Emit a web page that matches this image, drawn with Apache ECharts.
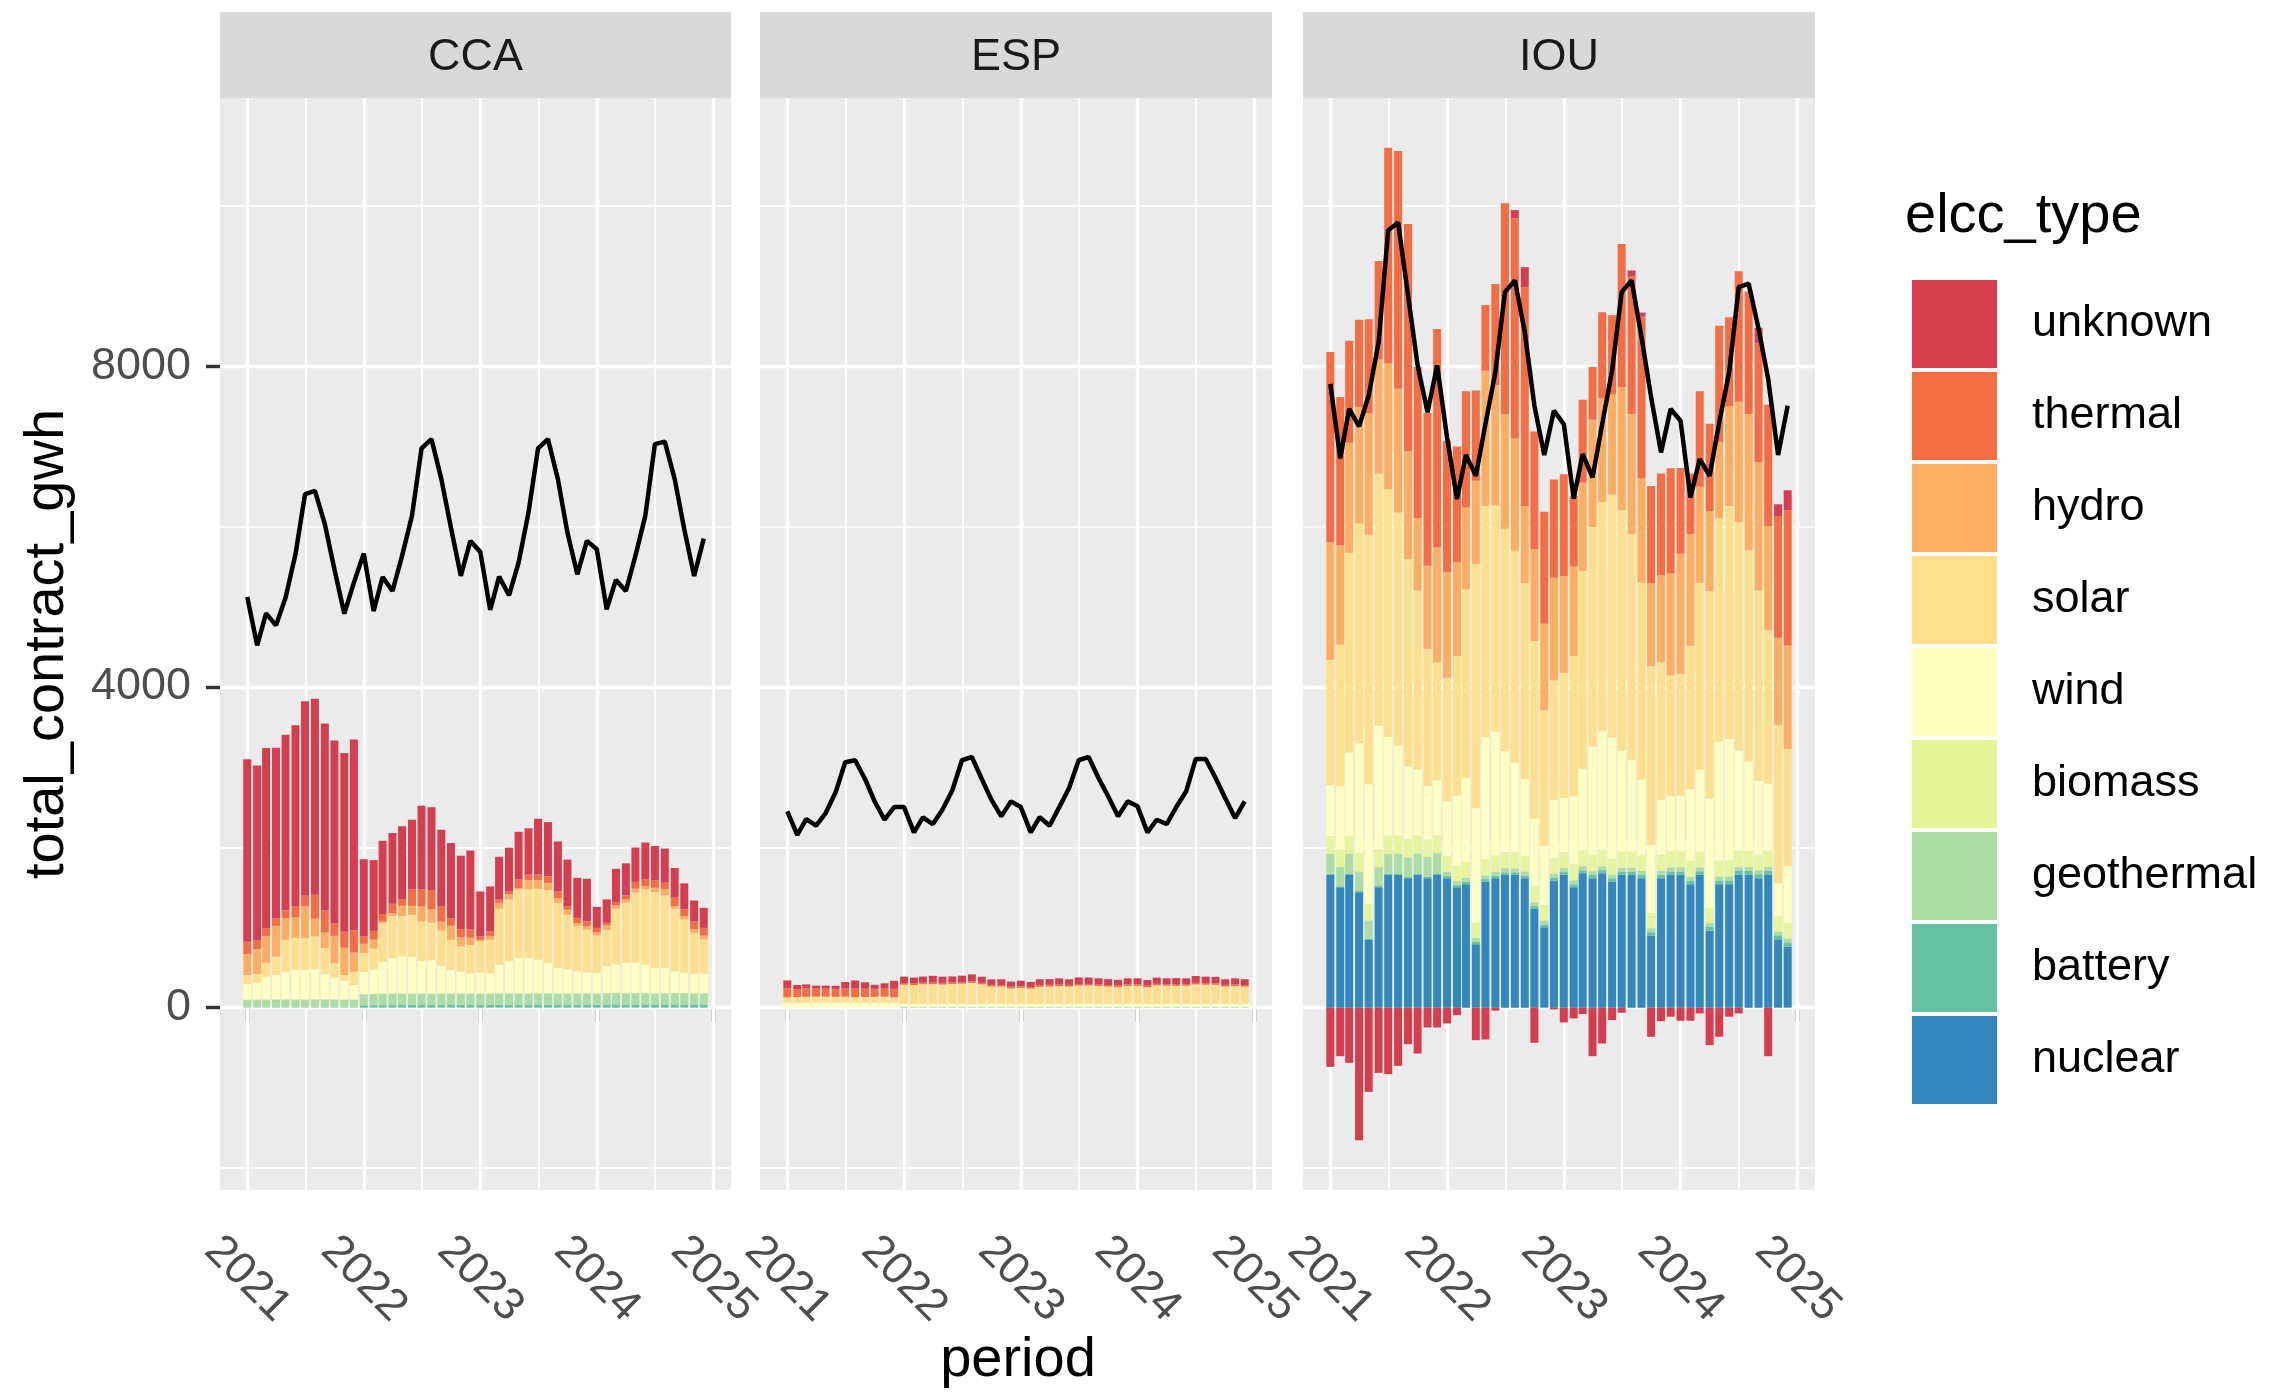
<!DOCTYPE html>
<html>
<head>
<meta charset="utf-8">
<title>total_contract_gwh by elcc_type</title>
<script src="https://cdn.jsdelivr.net/npm/echarts@6/dist/echarts.min.js"></script>
<style>
    html, body { margin: 0; padding: 0; background: #ffffff; }
    #chart { width: 2270px; height: 1393px; }
</style>
</head>
<body>
<div id="chart"></div>
<script>
    // one bar per month, Jan 2021 .. Dec 2024
    const periods = [
        '2021-01-01','2021-02-01','2021-03-01','2021-04-01','2021-05-01','2021-06-01','2021-07-01','2021-08-01','2021-09-01','2021-10-01','2021-11-01','2021-12-01',
        '2022-01-01','2022-02-01','2022-03-01','2022-04-01','2022-05-01','2022-06-01','2022-07-01','2022-08-01','2022-09-01','2022-10-01','2022-11-01','2022-12-01',
        '2023-01-01','2023-02-01','2023-03-01','2023-04-01','2023-05-01','2023-06-01','2023-07-01','2023-08-01','2023-09-01','2023-10-01','2023-11-01','2023-12-01',
        '2024-01-01','2024-02-01','2024-03-01','2024-04-01','2024-05-01','2024-06-01','2024-07-01','2024-08-01','2024-09-01','2024-10-01','2024-11-01','2024-12-01'
    ];
    const yearBreaks = ['2021-01-01', '2022-01-01', '2023-01-01', '2024-01-01', '2025-01-01'];
    const yearLabels = ['2021', '2022', '2023', '2024', '2025'];
    const yTicks = [0, 4000, 8000];
    const yTickLabels = ['0', '4000', '8000'];

    const types = ['unknown', 'thermal', 'hydro', 'solar', 'wind', 'biomass', 'geothermal', 'battery', 'nuclear'];
    const typeColors = ['#D53E4F', '#F46D43', '#FDAE61', '#FEE08B', '#FFFFBF', '#E6F598', '#ABDDA4', '#66C2A5', '#3288BD'];
    const panelNames = ['CCA', 'ESP', 'IOU'];

    // CCA
    const ccaUnknown = [2279,2179,2250,2125,2191,2262,2429,2446,2333,2280,2229,2383, 963,883,913,883,909,867,1042,1033,958,937,917,984, 562,563,533,542,596,580,696,675,621,583,500,530, 262,292,421,400,429,458,425,425,371,325,259,250];
    const ccaThermal = [154,117,96,96,96,138,133,299,275,158,200,275, 92,109,96,117,83,208,216,242,188,96,104,104, 42,62,42,41,104,70,70,84,83,42,63,62, 54,33,33,50,84,83,96,83,104,83,96,96];
    const ccaHydro = [262,308,342,383,271,258,396,221,196,342,341,238, 116,112,21,33,133,112,188,166,112,175,112,91, 21,42,75,63,21,109,109,91,63,62,41,42, 42,58,42,42,50,42,54,75,34,42,50,50];
    const ccaSolar = [113,108,166,229,404,396,396,409,325,179,71,166, 238,263,479,529,500,521,491,467,442,375,313,355, 387,417,695,771,854,862,883,909,812,680,563,533, 467,450,695,750,875,937,946,904,779,667,508,425];
    const ccaWind = [190,207,282,303,336,365,365,373,311,269,232,178, 269,298,394,436,457,457,403,415,340,290,269,248, 257,248,353,394,436,436,415,373,311,298,269,257, 248,332,353,373,373,353,311,311,269,248,240,240];
    const ccaBiomass = [4,5,5,5,6,6,5,5,5,5,4,4, 6,6,7,7,7,7,6,6,6,6,6,6, 6,6,7,7,7,7,7,6,6,6,6,6, 6,6,7,7,7,7,7,7,6,6,6,6];
    const ccaGeothermal = [95,95,95,96,96,95,95,96,95,95,94,95, 138,140,140,142,142,140,140,138,140,140,140,138, 140,140,142,142,140,138,140,140,140,138,140,140, 140,142,142,140,140,140,138,140,140,140,138,138];
    const ccaBattery = [4,4,5,5,5,5,5,6,6,6,6,6, 30,30,32,32,33,33,34,34,34,35,35,35, 35,35,36,36,36,37,37,37,38,38,38,38, 38,38,39,39,40,40,40,40,40,40,40,40];
    const ccaTotal = [5124,4520,4920,4770,5116,5657,6408,6449,6033,5470,4916,5303, 5666,4949,5374,5199,5637,6137,6978,7095,6595,5991,5387,5824, 5687,4962,5378,5145,5553,6178,6978,7095,6595,5928,5407,5824, 5720,4970,5337,5199,5637,6137,7032,7062,6595,5970,5387,5853];

    // ESP
    const espUnknown = [100,50,50,38,38,38,79,100,79,50,67,100, 80,70,75,85,78,72,80,85,75,70,72,65, 70,66,75,72,78,70,82,80,76,72,70,75, 74,70,78,72,75,72,85,80,80,70,76,72];
    const espThermal = [110,100,105,100,100,100,105,110,105,100,100,105, 20,22,20,18,20,22,20,20,18,20,20,22, 20,18,20,22,20,20,20,18,20,20,22,20, 20,20,18,20,22,20,20,20,18,20,20,20];
    const espSolar = [70,75,75,75,75,75,75,70,75,75,75,70, 240,237,245,247,242,248,252,264,245,217,215,192, 200,191,212,215,221,217,229,231,223,215,208,224, 225,208,233,227,224,227,243,240,240,217,223,215];
    const espWind = [60,58,60,62,62,60,62,60,58,60,62,60, 35,34,36,35,35,36,35,34,35,35,36,35, 35,34,35,36,35,35,34,35,35,36,35,35, 35,35,34,35,36,35,35,35,34,35,35,36];
    const espGeothermal = [0,0,0,0,0,0,0,0,0,0,0,0, 8,8,8,8,8,8,8,8,8,8,8,8, 8,8,8,8,8,8,8,8,8,8,8,8, 8,8,8,8,8,8,8,8,8,8,8,8];
    const espBattery = [0,0,0,0,0,0,0,0,0,0,0,0, 4,4,4,4,4,4,4,4,4,4,4,4, 4,4,4,4,4,4,4,4,4,4,4,4, 4,4,4,4,4,4,4,4,4,4,4,4];
    const espTotal = [2449,2157,2353,2270,2428,2687,3062,3087,2853,2574,2345,2503, 2503,2187,2374,2291,2470,2712,3087,3128,2853,2595,2387,2574, 2503,2187,2378,2270,2499,2741,3087,3128,2866,2637,2387,2574, 2512,2187,2345,2291,2503,2699,3103,3103,2866,2616,2366,2574];

    // IOU
    const iouUnknown = [-738,-605,-688,-1655,-1051,-813,-830,-726,-455,-572,-247,-247, -197,-93,0,-405,-397,-38,0,100,250,-438,0,-22, -184,-134,-80,-605,-447,-155,-63,75,50,-363,-168,-113, -163,-163,-72,-468,-363,-113,-72,0,196,-605,146,250];
    const iouThermal = [2375,1854,1271,1092,1175,1229,2687,2967,2833,1888,1908,2721, 1637,1450,1450,1125,821,1262,2633,2749,2729,1467,1396,1225, 1270,884,1034,658,1070,987,1784,1716,2020,1209,1270,1312, 1071,757,1191,1091,1453,1107,1628,1528,1482,1512,1521,1687];
    const iouHydro = [1467,1238,1375,1450,1512,1425,1571,1542,1346,904,1037,1438, 1321,1167,1021,1037,1687,1500,1430,1400,962,1146,1084,1283, 1209,1116,1104,1342,1300,1250,1540,1500,1300,1041,1084,1271, 1500,1388,1197,1000,950,1250,1500,1700,1600,1300,1083,1292];
    const iouSolar = [1562,1762,2491,2738,3113,3145,3092,2908,2591,2229,1713,1471, 1542,1738,2354,3047,2884,2821,2771,2647,2447,2221,1687,1487, 1562,1750,2467,2738,2863,3034,3001,2813,2455,2229,1716,1509, 1520,1792,2333,2584,2788,2905,2851,2638,2376,1917,1980,1458];
    const iouWind = [636,790,1040,1372,1489,1540,1231,1123,906,823,664,685, 678,874,1045,1432,1524,1545,1262,1116,957,840,737,724, 674,849,1019,1352,1474,1507,1257,1145,944,849,686,686, 690,889,1023,1364,1481,1514,1252,1115,918,836,410,710];
    const iouBiomass = [225,220,225,230,210,225,225,225,225,225,220,225, 200,195,200,190,200,205,200,200,195,200,195,200, 200,200,195,200,205,200,200,200,195,190,200,200, 200,200,195,190,200,200,200,200,195,200,190,195];
    const iouGeothermal = [250,240,250,245,230,235,250,250,245,250,245,250, 55,50,52,50,48,50,52,50,50,48,50,52, 50,50,52,50,50,48,50,52,50,50,50,50, 52,50,50,48,50,50,52,50,50,50,48,50];
    const iouBattery = [10,12,12,14,14,15,15,16,16,18,18,20, 25,26,28,28,30,30,32,32,33,34,35,35, 35,36,36,38,38,40,40,40,42,42,42,44, 44,45,45,46,46,48,48,48,50,50,50,52];
    const iouNuclear = [1657,1503,1657,1441,845,1503,1657,1657,1616,1657,1616,1657, 1616,1503,1541,791,1574,1616,1657,1657,1616,1233,1003,1583, 1657,1503,1678,1616,1678,1574,1657,1657,1616,899,1616,1657, 1657,1541,1657,962,1541,1541,1657,1657,1616,1657,853,762];
    const iouTotal = [7783,6853,7470,7253,7637,8303,9699,9795,8887,8012,7428,8012, 7116,6345,6895,6637,7282,7928,8928,9074,8428,7512,6895,7449, 7282,6353,6907,6616,7282,7949,8928,9074,8366,7616,6928,7470, 7324,6366,6845,6637,7303,7928,8991,9033,8470,7845,6895,7512];

    const panelData = [
        { unknown: ccaUnknown, thermal: ccaThermal, hydro: ccaHydro, solar: ccaSolar, wind: ccaWind,
          biomass: ccaBiomass, geothermal: ccaGeothermal, battery: ccaBattery },
        { unknown: espUnknown, thermal: espThermal, solar: espSolar, wind: espWind,
          geothermal: espGeothermal, battery: espBattery },
        { unknown: iouUnknown, thermal: iouThermal, hydro: iouHydro, solar: iouSolar, wind: iouWind,
          biomass: iouBiomass, geothermal: iouGeothermal, battery: iouBattery, nuclear: iouNuclear }
    ];
    const panelTotals = [ccaTotal, espTotal, iouTotal];

    // layout
    const FONT = "'Liberation Sans', Arial, sans-serif";
    const DAY = 86400000;
    const toTime = d => +echarts.time.parse(d);
    const periodTimes = periods.map(toTime);
    const yearTicks = yearBreaks.map(toTime);
    const panelLeft = [220, 760, 1303];
    const panelWidth = [511, 512, 512];
    const plotTop = 98, plotHeight = 1092;
    // ggplot default expansion around the bars
    const xMin = periodTimes[0] - 85.4 * DAY;
    const xMax = periodTimes[periodTimes.length - 1] + 85.4 * DAY;
    const halfYears = yearTicks.slice(1).map((t, i) => (t + yearTicks[i]) / 2);
    const yMin = -2275, yMax = 11350;
    const yMajor = [0, 4000, 8000], yMinor = [-2000, 2000, 6000, 10000];

    const chart = echarts.init(document.getElementById('chart'));

    const series = [];
    panelNames.forEach((p, k) => {
        const gridLines = [];
        halfYears.forEach(v => gridLines.push({ xAxis: v, lineStyle: { width: 1.7 } }));
        yMinor.forEach(v => gridLines.push({ yAxis: v, lineStyle: { width: 1.7 } }));
        yearTicks.forEach(v => gridLines.push({ xAxis: v, lineStyle: { width: 3.4 } }));
        yMajor.forEach(v => gridLines.push({ yAxis: v, lineStyle: { width: 3.4 } }));
        series.push({
            type: 'line', name: 'grid' + k, xAxisIndex: k, yAxisIndex: k, data: [], silent: true,
            markLine: {
                silent: true, z: 1, symbol: ['none', 'none'], animation: false,
                label: { show: false }, emphasis: { disabled: true },
                lineStyle: { color: '#ffffff', type: 'solid' },
                data: gridLines
            }
        });
        // stacked from bottom (nuclear) to top (unknown);
        // value column first so the stack runs on y, not on the period
        for (let t = types.length - 1; t >= 0; t--) {
            const vals = panelData[k][types[t]] || [];
            series.push({
                type: 'bar', name: types[t], xAxisIndex: k, yAxisIndex: k, stack: 'p' + k,
                barWidth: 8, z: 2,
                encode: { x: 1, y: 0 },
                itemStyle: { color: typeColors[t] },
                emphasis: { disabled: true },
                data: vals.map((v, i) => [v, periodTimes[i]])
            });
        }
        series.push({
            type: 'line', name: 'total_contract_gwh', xAxisIndex: k, yAxisIndex: k, z: 5,
            showSymbol: false, silent: true,
            lineStyle: { color: '#000000', width: 4.5 },
            emphasis: { disabled: true },
            data: panelTotals[k].map((v, i) => [periodTimes[i], v])
        });
    });

    const graphics = [];
    panelNames.forEach((p, k) => {
        graphics.push({
            type: 'rect', shape: { x: panelLeft[k], y: 12, width: panelWidth[k], height: 86 },
            style: { fill: '#D9D9D9' }
        });
        graphics.push({
            type: 'text', x: panelLeft[k] + panelWidth[k] / 2, y: 58,
            style: { text: p, fontSize: 45, fontFamily: FONT, fill: '#1A1A1A', align: 'center', verticalAlign: 'middle' }
        });
    });
    graphics.push({
        type: 'text', x: 48, y: 644, rotation: Math.PI / 2,
        style: { text: 'total_contract_gwh', fontSize: 56, fontFamily: FONT, fill: '#000', align: 'center', verticalAlign: 'middle' }
    });
    graphics.push({
        type: 'text', x: 1018, y: 1361,
        style: { text: 'period', fontSize: 56, fontFamily: FONT, fill: '#000', align: 'center', verticalAlign: 'middle' }
    });
    graphics.push({
        type: 'text', x: 1905, y: 217,
        style: { text: 'elcc_type', fontSize: 56, fontFamily: FONT, fill: '#000', align: 'left', verticalAlign: 'middle' }
    });

    const nearestIndex = (arr, v) => {
        let best = 0;
        arr.forEach((a, i) => { if (Math.abs(a - v) < Math.abs(arr[best] - v)) best = i; });
        return best;
    };

    chart.setOption({
        animation: false,
        backgroundColor: '#ffffff',
        textStyle: { fontFamily: FONT },
        grid: panelNames.map((p, k) => ({
            left: panelLeft[k], top: plotTop, width: panelWidth[k], height: plotHeight,
            show: true, backgroundColor: '#EBEBEB', borderWidth: 0
        })),
        xAxis: panelNames.map((p, k) => ({
            type: 'value', gridIndex: k, min: xMin, max: xMax, scale: true,
            axisLine: { show: false }, splitLine: { show: false },
            axisTick: { show: true, customValues: yearTicks, length: 14, lineStyle: { color: '#333333', width: 3.4 } },
            axisLabel: {
                customValues: yearTicks,
                formatter: v => yearLabels[nearestIndex(yearTicks, v)],
                rotate: -45, align: 'center', verticalAlign: 'middle',
                margin: 89, padding: [40, 0, 0, 0],
                fontSize: 45, color: '#4D4D4D', fontFamily: FONT
            }
        })),
        yAxis: panelNames.map((p, k) => ({
            type: 'value', gridIndex: k, min: yMin, max: yMax,
            axisLine: { show: false }, splitLine: { show: false },
            axisTick: { show: k === 0, customValues: yTicks, length: 14, lineStyle: { color: '#333333', width: 3.4 } },
            axisLabel: {
                show: k === 0, customValues: yTicks,
                formatter: v => yTickLabels[nearestIndex(yTicks, v)],
                margin: 29, fontSize: 45, color: '#4D4D4D', fontFamily: FONT
            }
        })),
        legend: {
            data: types,
            orient: 'vertical',
            left: 1907, top: 275,
            itemWidth: 85, itemHeight: 88, itemGap: 4,
            icon: 'rect',
            selectedMode: false,
            itemStyle: { borderWidth: 0 },
            textStyle: { fontSize: 45, color: '#000', fontFamily: FONT, padding: [0, 0, 0, 30] }
        },
        graphic: graphics,
        series: series
    });
</script>
</body>
</html>
